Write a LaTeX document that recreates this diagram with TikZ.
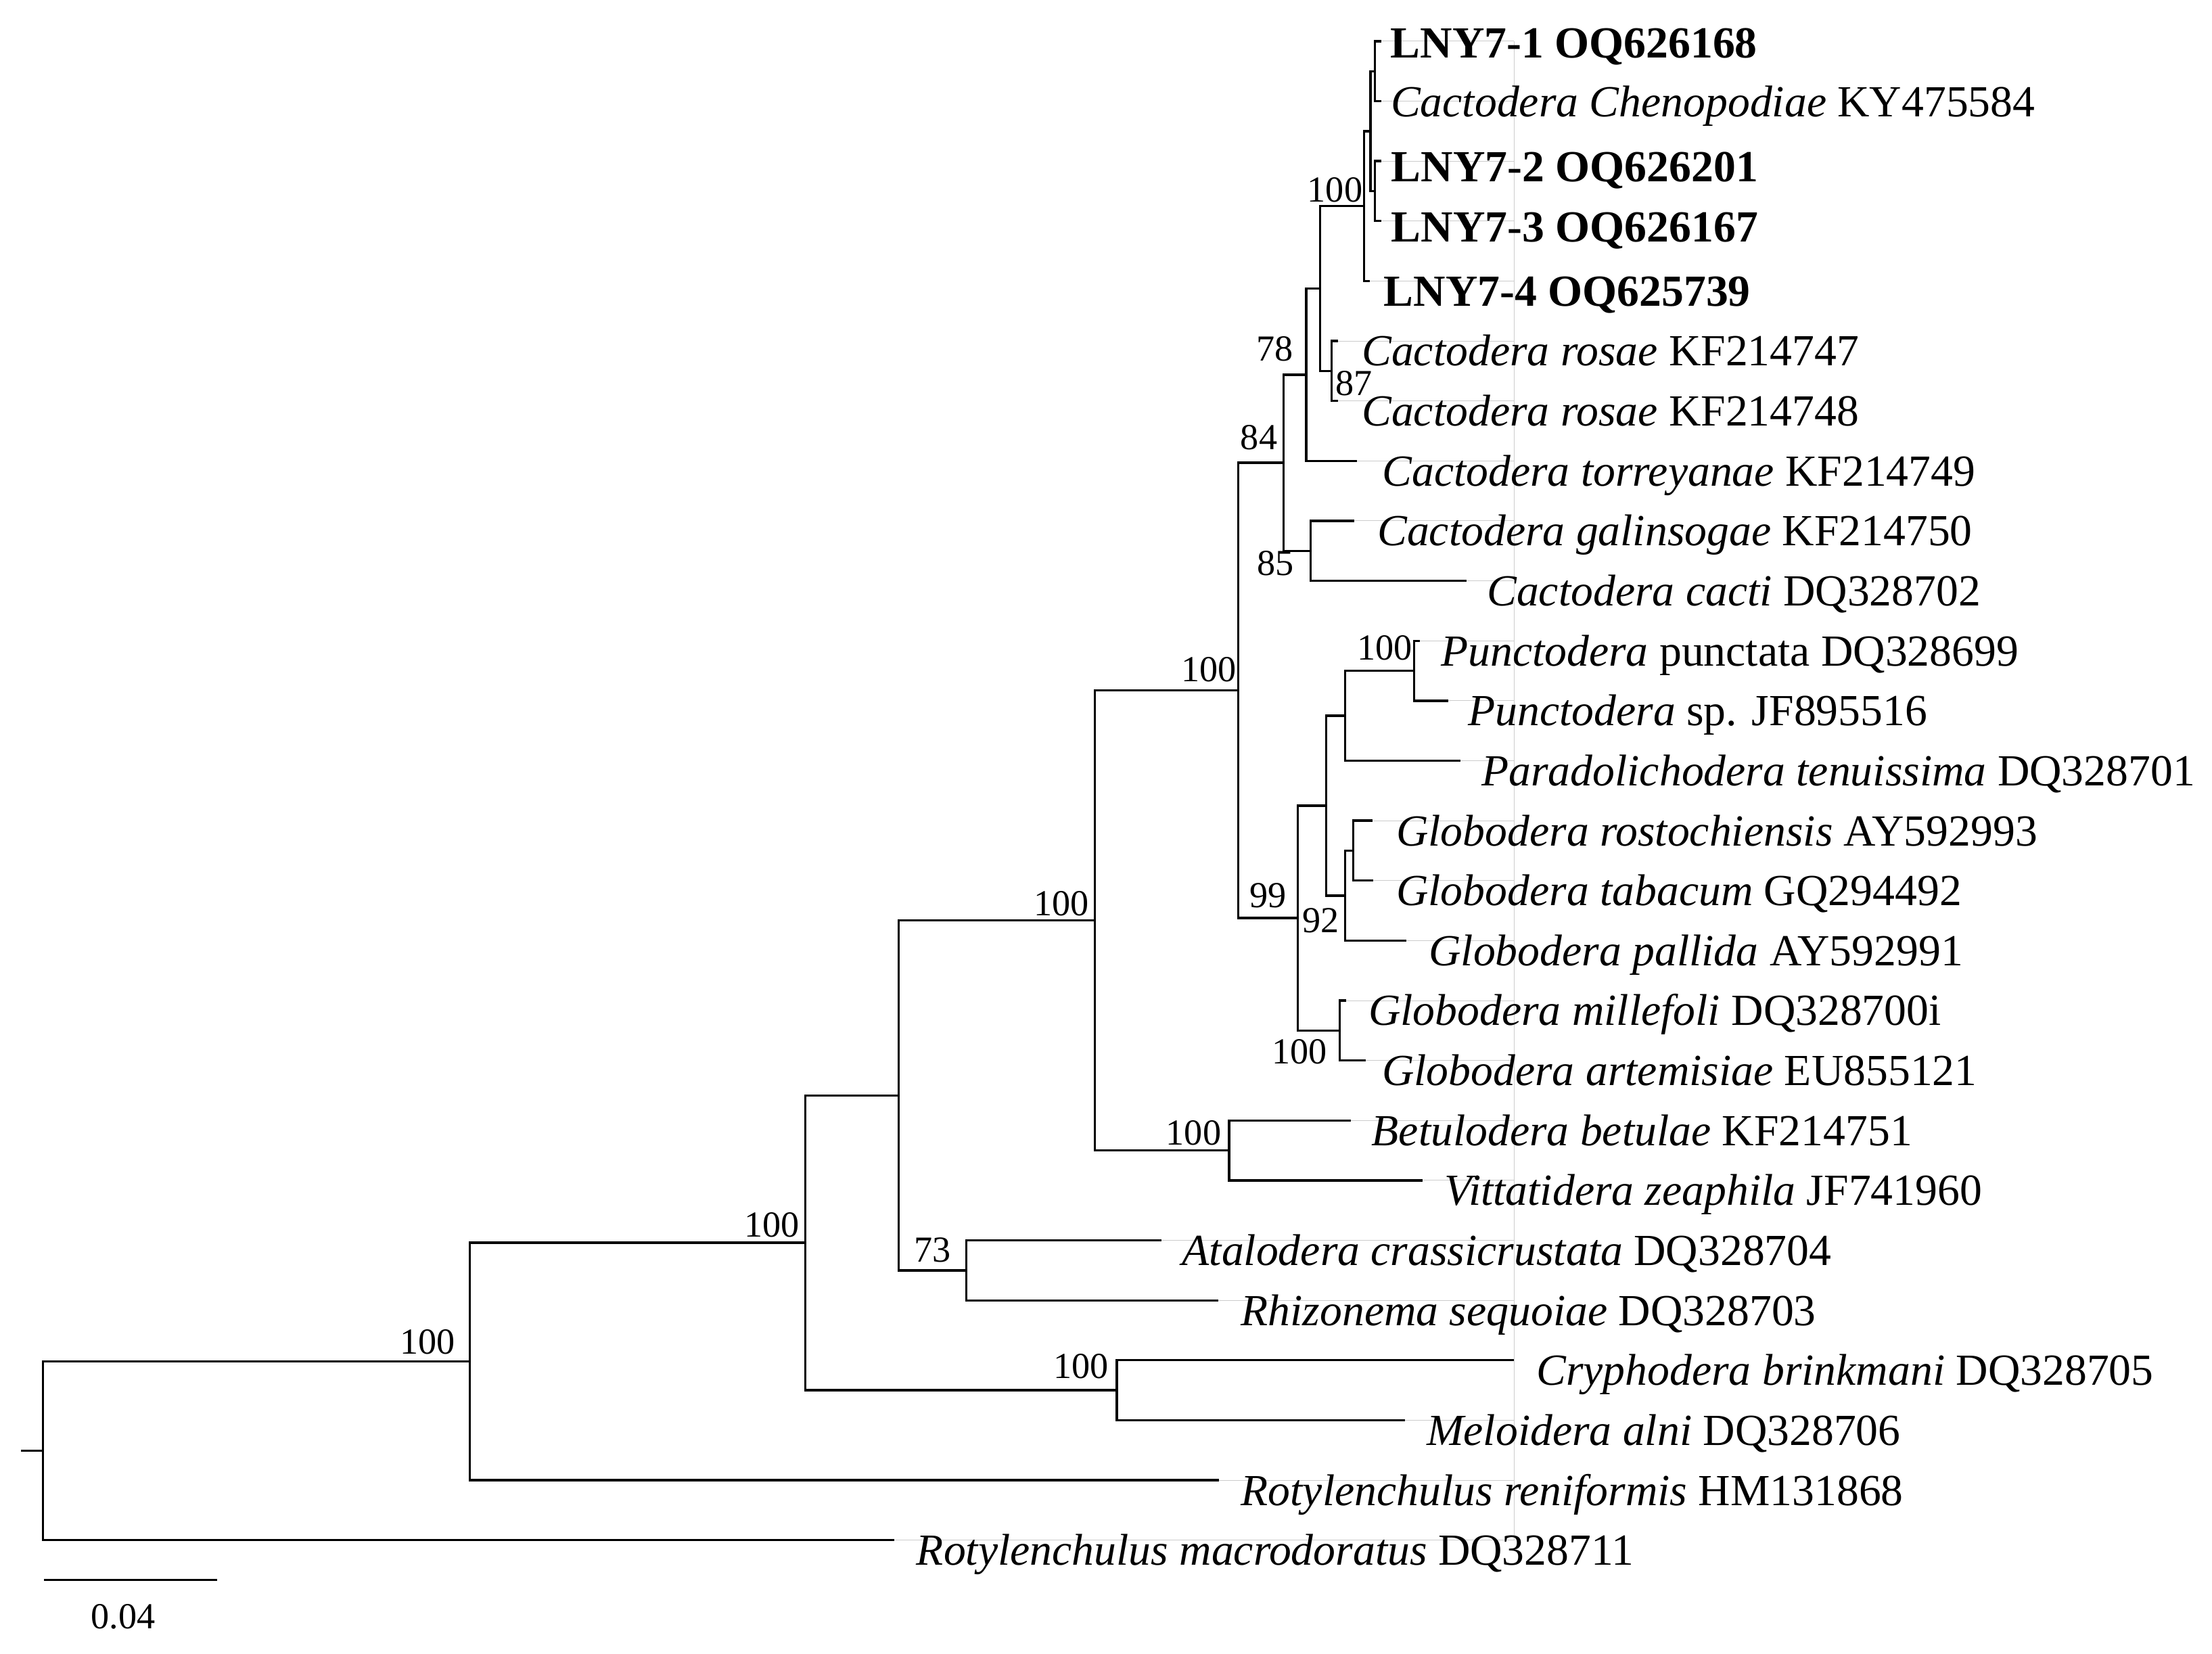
\documentclass[tikz,border=0pt]{standalone}
\usepackage{fontspec}
\setmainfont{Liberation Serif}
\newcommand\leaffont{\fontsize{15.75pt}{18pt}\selectfont}
\newcommand\bsfont{\fontsize{13pt}{15pt}\selectfont}
\begin{document}
\begin{tikzpicture}[x=0.5pt,y=-0.5pt,
  br/.style={line width=0.8pt},
  guide/.style={line width=0.25pt,draw=black!20},
  leaf/.style={anchor=base west,inner sep=0pt,font=\leaffont},
  bs/.style={anchor=base east,inner sep=0pt,font=\bsfont},
  bsw/.style={anchor=base west,inner sep=0pt,font=\bsfont}]
\useasboundingbox (0,0) rectangle (1568,1172);
% internal nodes
\coordinate (r0) at (15,1028.4);
\coordinate (nRoot) at (30.3,1028.4);
\coordinate (nA) at (333,965.05);
\coordinate (nB) at (571,880.9);
\coordinate (nC) at (637,776.4);
\coordinate (nD) at (776,652.4);
\coordinate (nE) at (877.6,489.4);
\coordinate (nO) at (909.8,328.0);
\coordinate (nN) at (926,265.6);
\coordinate (nL) at (935.8,204.5);
\coordinate (nH) at (967,146.08);
\coordinate (nI) at (971.5,92.95);
\coordinate (nJ) at (974.7,50.45);
\coordinate (nK) at (974.7,135.45);
\coordinate (nM) at (944,262.95);
\coordinate (nP) at (929,390.45);
\coordinate (nQ) at (919.9,650.75);
\coordinate (nR) at (940,571.05);
\coordinate (nS) at (953.5,507.3);
\coordinate (nU) at (1002.4,475.45);
\coordinate (nT) at (953.5,634.8);
\coordinate (nV) at (959.2,602.95);
\coordinate (nW) at (949.6,730.45);
\coordinate (nX) at (871.2,815.45);
\coordinate (nF) at (685,900.45);
\coordinate (nG) at (791.6,985.45);
% tips
\coordinate (t1) at (979,29.2);
\coordinate (t2) at (979,71.7);
\coordinate (t3) at (979,114.2);
\coordinate (t4) at (979,156.7);
\coordinate (t5) at (971,199.2);
\coordinate (t6) at (948.5,241.7);
\coordinate (t7) at (948.5,284.2);
\coordinate (t8) at (962,326.7);
\coordinate (t9) at (960.2,369.2);
\coordinate (t10) at (1039.4,411.7);
\coordinate (t11) at (1006.3,454.2);
\coordinate (t12) at (1026.5,496.7);
\coordinate (t13) at (1035.1,539.2);
\coordinate (t14) at (972.7,581.7);
\coordinate (t15) at (973.6,624.2);
\coordinate (t16) at (996.7,666.7);
\coordinate (t17) at (954.4,709.2);
\coordinate (t18) at (967.9,751.7);
\coordinate (t19) at (957.5,794.2);
\coordinate (t20) at (1008.6,836.7);
\coordinate (t21) at (823.4,879.2);
\coordinate (t22) at (863.8,921.7);
\coordinate (t23) at (1073.3,964.2);
\coordinate (t24) at (996,1006.7);
\coordinate (t25) at (864,1049.2);
\coordinate (t26) at (633.7,1091.7);
% faint guide lines
\coordinate (gTop) at (1073.3,29.2);
\coordinate (gBot) at (1073.3,1091.7);
\draw[guide] (gTop) -- (gBot);
\foreach \i in {1,...,22,24,25,26} {\draw[guide] (t\i) -- (t\i -| gTop);}
% branches
\draw[br] (r0) -- (nRoot);
\draw[br] (nRoot) |- (nA);  \draw[br] (nRoot) |- (t26);
\draw[br] (nA) |- (nB);     \draw[br] (nA) |- (t25);
\draw[br] (nB) |- (nC);     \draw[br] (nB) |- (nG);
\draw[br] (nC) |- (nD);     \draw[br] (nC) |- (nF);
\draw[br] (nD) |- (nE);     \draw[br] (nD) |- (nX);
\draw[br] (nE) |- (nO);     \draw[br] (nE) |- (nQ);
\draw[br] (nO) |- (nN);     \draw[br] (nO) |- (nP);
\draw[br] (nN) |- (nL);     \draw[br] (nN) |- (t8);
\draw[br] (nL) |- (nH);     \draw[br] (nL) |- (nM);
\draw[br] (nH) |- (nI);     \draw[br] (nH) |- (t5);
\draw[br] (nI) |- (nJ);     \draw[br] (nI) |- (nK);
\draw[br] (nJ) |- (t1);     \draw[br] (nJ) |- (t2);
\draw[br] (nK) |- (t3);     \draw[br] (nK) |- (t4);
\draw[br] (nM) |- (t6);     \draw[br] (nM) |- (t7);
\draw[br] (nP) |- (t9);     \draw[br] (nP) |- (t10);
\draw[br] (nQ) |- (nR);     \draw[br] (nQ) |- (nW);
\draw[br] (nR) |- (nS);     \draw[br] (nR) |- (nT);
\draw[br] (nS) |- (nU);     \draw[br] (nS) |- (t13);
\draw[br] (nU) |- (t11);    \draw[br] (nU) |- (t12);
\draw[br] (nT) |- (nV);     \draw[br] (nT) |- (t16);
\draw[br] (nV) |- (t14);    \draw[br] (nV) |- (t15);
\draw[br] (nW) |- (t17);    \draw[br] (nW) |- (t18);
\draw[br] (nX) |- (t19);    \draw[br] (nX) |- (t20);
\draw[br] (nF) |- (t21);    \draw[br] (nF) |- (t22);
\draw[br] (nG) |- (t23);    \draw[br] (nG) |- (t24);
% leaf labels
\node[leaf] (l1) at (985.4,40.8) {\textbf{LNY7-1 OQ626168}};
\node[leaf] (l2) at (985.5,82.8) {\textit{Cactodera Chenopodiae} KY475584};
\node[leaf] (l3) at (985.9,128.7) {\textbf{LNY7-2 OQ626201}};
\node[leaf] (l4) at (985.9,171.3) {\textbf{LNY7-3 OQ626167}};
\node[leaf] (l5) at (980.6,216.9) {\textbf{LNY7-4 OQ625739}};
\node[leaf] (l6) at (965,259.4) {\textit{Cactodera rosae} KF214747};
\node[leaf] (l7) at (965,301.9) {\textit{Cactodera rosae} KF214748};
\node[leaf] (l8) at (979.4,344.4) {\textit{Cactodera torreyanae} KF214749};
\node[leaf] (l9) at (976,386.9) {\textit{Cactodera galinsogae} KF214750};
\node[leaf] (l10) at (1053.7,429.4) {\textit{Cactodera cacti} DQ328702};
\node[leaf] (l11) at (1021.1,471.9) {\textit{Punctodera} punctata DQ328699};
\node[leaf] (l12) at (1040.3,514.4) {\textit{Punctodera} sp. JF895516};
\node[leaf] (l13) at (1049.9,556.9) {\textit{Paradolichodera tenuissima} DQ328701};
\node[leaf] (l14) at (989.4,599.4) {\textit{Globodera rostochiensis} AY592993};
\node[leaf] (l15) at (989.4,641.9) {\textit{Globodera tabacum} GQ294492};
\node[leaf] (l16) at (1012.5,684.4) {\textit{Globodera pallida} AY592991};
\node[leaf] (l17) at (969.7,726.9) {\textit{Globodera millefoli} DQ328700i};
\node[leaf] (l18) at (979.3,769.4) {\textit{Globodera artemisiae} EU855121};
\node[leaf] (l19) at (971.9,811.9) {\textit{Betulodera betulae} KF214751};
\node[leaf] (l20) at (1023.7,854.4) {\textit{Vittatidera zeaphila} JF741960};
\node[leaf] (l21) at (837.6,896.9) {\textit{Atalodera crassicrustata} DQ328704};
\node[leaf] (l22) at (879.3,939.4) {\textit{Rhizonema sequoiae} DQ328703};
\node[leaf] (l23) at (1088.7,981.9) {\textit{Cryphodera brinkmani} DQ328705};
\node[leaf] (l24) at (1010.9,1024.4) {\textit{Meloidera alni} DQ328706};
\node[leaf] (l25) at (879.3,1066.9) {\textit{Rotylenchulus reniformis} HM131868};
\node[leaf] (l26) at (649.3,1109.4) {\textit{Rotylenchulus macrodoratus} DQ328711};
% bootstrap values
\node[bs] (b1) at (323,959.5) {100};
\node[bs] (b2) at (567,876.6) {100};
\node[bs] (b3) at (772.3,648.8) {100};
\node[bs] (b4) at (674.3,894.3) {73};
\node[bs] (b5) at (786,977) {100};
\node[bs] (b6) at (876.7,483) {100};
\node[bs] (b7) at (866,811.6) {100};
\node[bs] (b8) at (905.8,318.6) {84};
\node[bs] (b9) at (917,255.8) {78};
\node[bsw] (b10) at (946.3,280.4) {87};
\node[bs] (b11) at (966.2,143) {100};
\node[bs] (b12) at (917.5,407.8) {85};
\node[bs] (b13) at (1001.5,467.8) {100};
\node[bs] (b14) at (912.2,643.4) {99};
\node[bs] (b15) at (949.6,661) {92};
\node[bs] (b16) at (941,754) {100};
% scale bar
\coordinate (sb1) at (31.4,1120);
\coordinate (sb2) at (154,1120);
\draw[br] (sb1) -- (sb2);
\node[anchor=base,inner sep=0pt,font=\bsfont] (sbl) at (87.2,1154.5) {0.04};
\end{tikzpicture}
\end{document}
